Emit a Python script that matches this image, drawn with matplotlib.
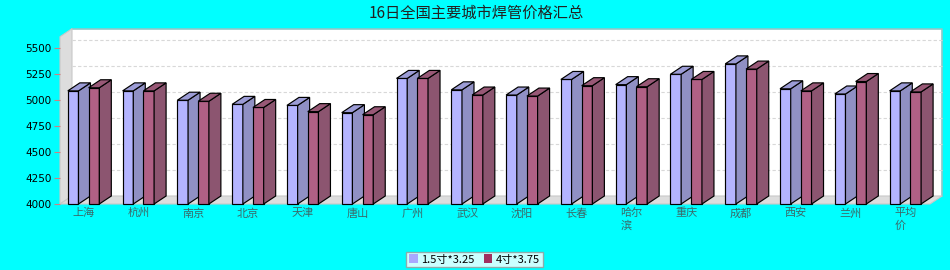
import matplotlib
matplotlib.use("Agg")
import matplotlib.pyplot as plt
import matplotlib.transforms as mtransforms
from matplotlib.patches import Polygon, Rectangle, Patch

plt.rcParams['font.family'] = ['Noto Sans CJK SC', 'DejaVu Sans']

# ========================
# données
# ========================
villes = ["上海", "杭州", "南京", "北京", "天津", "唐山", "广州", "武汉",
          "沈阳", "长春", "哈尔\n滨", "重庆", "成都", "西安", "兰州", "平均\n价"]
prix_15 = [5090, 5090, 5000, 4960, 4950, 4880, 5210, 5100,
           5050, 5200, 5150, 5250, 5350, 5110, 5060, 5090]
prix_4 = [5120, 5090, 4990, 4930, 4890, 4860, 5210, 5050,
          5040, 5140, 5130, 5200, 5300, 5090, 5180, 5080]
series = ["1.5寸*3.25", "4寸*3.75"]
yticks = [4000, 4250, 4500, 4750, 5000, 5250, 5500]

W, H = 950, 270
fig = plt.figure(figsize=(W / 100, H / 100), dpi=100, facecolor="#00FFFF")
ax = fig.add_axes([60 / W, 66 / H, 870 / W, 167.3 / H])
xmin, xmax = -0.43, 15.45
ymin, ymax = 4000, 5612
ax.set_xlim(xmin, xmax)
ax.set_ylim(ymin, ymax)
ax.patch.set_visible(False)
for s in ax.spines.values():
    s.set_visible(False)

# profondeur 3D en unités de données (12 px, 8 px)
dx = 12 * (xmax - xmin) / 870
dy = 8 * (ymax - ymin) / 167.3

# mur du fond, mur gauche, sol
ax.add_patch(Rectangle((xmin + dx, ymin + dy), xmax - xmin, ymax - ymin,
                       facecolor="white", edgecolor="none", zorder=0, clip_on=False))
ax.plot([xmin + dx, xmax + dx, xmax + dx], [ymax + dy, ymax + dy, ymin + dy],
        color="#8CC8C8", lw=1.2, zorder=0.5, clip_on=False)
ax.add_patch(Polygon([(xmin, ymin), (xmin + dx, ymin + dy), (xmin + dx, ymax + dy), (xmin, ymax)],
                     facecolor="#DDDDDD", edgecolor="#C8C8C8", lw=0.8, zorder=0.6, clip_on=False))
ax.add_patch(Polygon([(xmin, ymin), (xmax, ymin), (xmax + dx, ymin + dy), (xmin + dx, ymin + dy)],
                     facecolor="#DDDDDD", edgecolor="#C8C8C8", lw=0.8, zorder=0.6, clip_on=False))
for v in yticks[1:]:
    ax.plot([xmin + dx, xmax + dx], [v + dy, v + dy], color="#D8D8D8",
            lw=0.8, ls=(0, (3, 2)), zorder=0.7, clip_on=False)

# barres 3D
w = 0.195
offs = [-0.19, 0.19]
couleurs = [("#B4B4FF", "#9090C4", "#9C9CD6"), ("#B06085", "#8C5570", "#985876")]
z = 1
for i in range(len(villes)):
    for k, vals in enumerate([prix_15, prix_4]):
        v = vals[i]
        x0 = i + offs[k] - w / 2
        x1 = x0 + w
        front, side, top = couleurs[k]
        ax.bar(x0, v - ymin, width=w, bottom=ymin, align="edge", color=front,
               edgecolor="black", lw=0.85, zorder=z, clip_on=False)
        ax.add_patch(Polygon([(x1, ymin), (x1 + dx, ymin + dy), (x1 + dx, v + dy), (x1, v)],
                             facecolor=side, edgecolor="black", lw=0.85, zorder=z, clip_on=False))
        ax.add_patch(Polygon([(x0, v), (x1, v), (x1 + dx, v + dy), (x0 + dx, v + dy)],
                             facecolor=top, edgecolor="black", lw=0.85, zorder=z, clip_on=False))
        z += 1

ax.set_yticks(yticks)
ax.set_yticklabels([str(t) for t in yticks], family="DejaVu Sans", fontsize=7.5, color="black")
ax.tick_params(axis="y", length=4, color="#D08080", pad=2)
ax.set_xticks(range(len(villes)))
ax.set_xticklabels(villes, fontsize=8, color="#3A6A6A", ha="left",
                   linespacing=1.3, va="top")
ax.tick_params(axis="x", length=0, pad=3)
# décaler les labels pour qu'ils commencent près de la barre bleue
off = mtransforms.ScaledTranslation(-11 / 100, 0, fig.dpi_scale_trans)
for lbl in ax.get_xticklabels():
    lbl.set_transform(lbl.get_transform() + off)

fig.text(476 / W, 1 - 13 / H, "16日全国主要城市焊管价格汇总", ha="center", va="center",
         fontsize=11, color="#222222")

handles = [Patch(facecolor="#A8A8FF", edgecolor="none"), Patch(facecolor="#A03060", edgecolor="none")]
leg = fig.legend(handles, series, loc="center", bbox_to_anchor=(474.5 / W, 1 - 259.5 / H),
                 ncol=2, fontsize=8, frameon=True, fancybox=False, handlelength=0.8,
                 handleheight=0.8, handletextpad=0.3, columnspacing=0.8, borderpad=0.25)
leg.get_frame().set_edgecolor("#999999")
leg.get_frame().set_facecolor("white")
leg.get_frame().set_linewidth(1)

plt.savefig("out.png", dpi=100, facecolor=fig.get_facecolor())
